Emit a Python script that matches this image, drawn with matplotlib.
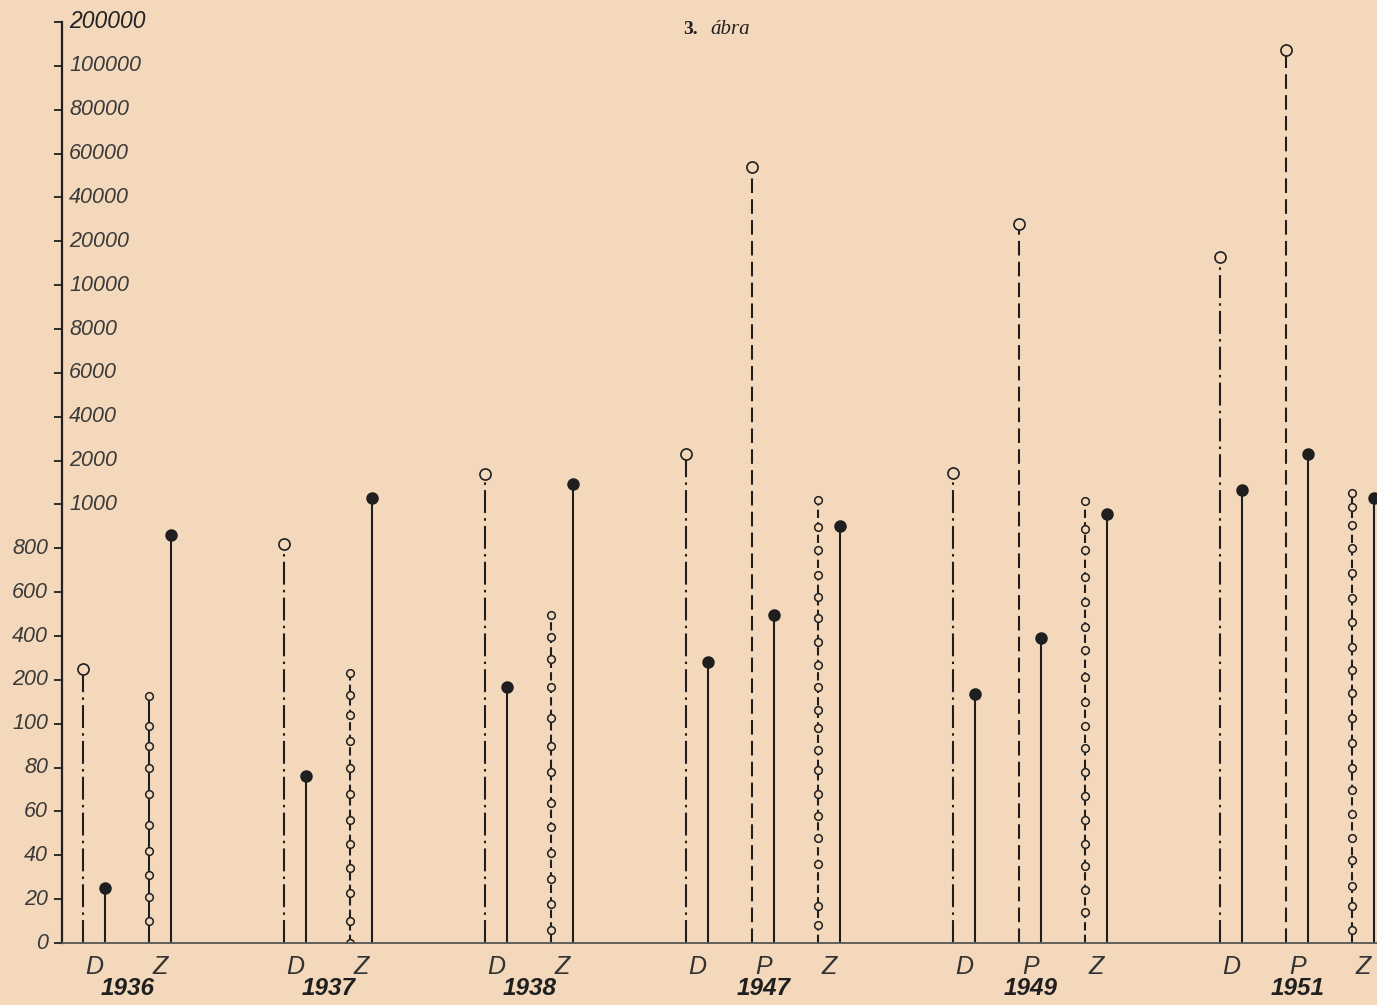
import matplotlib.pyplot as plt
import numpy as np

# Data (piecewise y scale)
tick_values = [0, 20, 40, 60, 80, 100, 200, 400, 600, 800, 1000, 2000, 4000,
               6000, 8000, 10000, 20000, 40000, 60000, 80000, 100000, 200000]

years = ['1936', '1937', '1938', '1947', '1949', '1951']
kinds = [['D', 'Z'], ['D', 'Z'], ['D', 'Z'],
         ['D', 'P', 'Z'], ['D', 'P', 'Z'], ['D', 'P', 'Z']]

d_open = [250, 820, 1690, 2300, 1720, 16400]
d_solid = [25, 76, 184, 282, 168, 1330]
p_open = [None, None, None, 53800, 27800, 136000]
p_solid = [None, None, None, 496, 390, 2300]
z_points = [
    [10, 21, 31, 42, 54, 68, 80, 90, 99, 164],
    [0, 10, 23, 34, 45, 56, 68, 80, 92, 120, 165, 230],
    [6, 18, 29, 41, 53, 64, 78, 90, 113, 184, 296, 396, 496],
    [8, 17, 36, 48, 58, 68, 79, 88, 98, 131, 183, 268, 372, 480, 580, 678,
     792, 898, 1100],
    [14, 24, 35, 45, 56, 67, 78, 89, 99, 150, 214, 336, 442, 556, 668, 792,
     886, 1080],
    [6, 17, 26, 38, 48, 59, 70, 80, 91, 112, 169, 244, 352, 466, 572, 686,
     800, 906, 990, 1250],
]
z_solid = [860, 1150, 1460, 902, 956, 1150]

bg = '#f4d8bc'
ink = '#1f1f1f'

idx = np.arange(len(tick_values))


def fwd(v):
    return np.interp(v, tick_values, idx)


def inv(i):
    return np.interp(i, idx, tick_values)


fig = plt.figure(figsize=(13.77, 10.05), dpi=100)
fig.patch.set_facecolor(bg)
ax = fig.add_axes([62 / 1377, (1005 - 943) / 1005, (1377 - 62) / 1377, (943 - 22) / 1005])
ax.set_facecolor(bg)
ax.set_yscale('function', functions=(fwd, inv))
ax.set_ylim(0, 200000)
ax.set_xlim(62, 1377)

# layout of the stems
start = 83
pair_step = 66
group_gap = 135
offset = 22.5

dash_dot = (0, (11, 2.5, 1.2, 2.5))
dashed = (0, (7, 3))
z_dash = (0, (4, 2))
lw = 1.5
font = ['Liberation Sans', 'DejaVu Sans']

x = start
for g, year in enumerate(years):
    centers = []
    for k in kinds[g]:
        xs = x + offset
        if k == 'D':
            ax.plot([x, x], [0, d_open[g]], color=ink, lw=lw, linestyle=dash_dot)
            ax.plot(x, d_open[g], 'o', mfc=bg, mec=ink, ms=8, mew=1.2)
            ax.plot([xs, xs], [0, d_solid[g]], color=ink, lw=lw)
            ax.plot(xs, d_solid[g], 'o', color=ink, ms=8)
        elif k == 'P':
            ax.plot([x, x], [0, p_open[g]], color=ink, lw=lw, linestyle=dashed)
            ax.plot(x, p_open[g], 'o', mfc=bg, mec=ink, ms=8, mew=1.2)
            ax.plot([xs, xs], [0, p_solid[g]], color=ink, lw=lw)
            ax.plot(xs, p_solid[g], 'o', color=ink, ms=8)
        else:
            pts = z_points[g]
            ls = '-' if g == 0 else z_dash
            ax.plot([x, x], [0, max(pts)], color=ink, lw=lw, linestyle=ls)
            ax.plot([x] * len(pts), pts, 'o', mfc=bg, mec=ink, ms=5.5, mew=1.1,
                    linestyle='none')
            ax.plot([xs, xs], [0, z_solid[g]], color=ink, lw=lw)
            ax.plot(xs, z_solid[g], 'o', color=ink, ms=8)
        center = x + offset / 2
        centers.append(center)
        ax.annotate(k, xy=(center, 0), xycoords=('data', 'axes fraction'),
                    xytext=(0, -24), textcoords='offset pixels', ha='center',
                    va='center', fontsize=18, style='italic', color='#333333',
                    family=font)
        x += pair_step
    ax.annotate(year, xy=(np.median(centers), 0), xycoords=('data', 'axes fraction'),
                xytext=(0, -45), textcoords='offset pixels', ha='center',
                va='center', fontsize=17.5, style='italic', weight='bold', color=ink,
                family=font)
    x += group_gap - pair_step

# axes styling
for s in ['top', 'right']:
    ax.spines[s].set_visible(False)
ax.spines['left'].set_linewidth(1.6)
ax.spines['bottom'].set_linewidth(1.3)
ax.spines['left'].set_color(ink)
ax.spines['bottom'].set_color('#555555')
ax.set_xticks([])
ax.set_yticks(tick_values)
ax.yaxis.set_minor_locator(plt.NullLocator())
ax.tick_params(axis='y', direction='out', length=6, width=1.3, color=ink,
               labelleft=False)

for v in tick_values:
    lbl = str(v)
    size = 16.5 if v == 200000 else 15.5
    col = '#222222' if v == 200000 else '#3a3a3a'
    if v <= 800:
        ax.annotate(lbl, xy=(0, v), xycoords=('axes fraction', 'data'),
                    xytext=(-14, 0), textcoords='offset pixels', ha='right',
                    va='center', fontsize=size, style='italic', color=col,
                    family=font)
    else:
        ax.annotate(lbl, xy=(0, v), xycoords=('axes fraction', 'data'),
                    xytext=(7, 0), textcoords='offset pixels', ha='left',
                    va='center', fontsize=size, style='italic', color=col,
                    family=font)

fig.text(698 / 1377, 1 - 30 / 1005, '3.', ha='right', va='center', fontsize=14,
         weight='bold', family=['Liberation Serif', 'DejaVu Serif'], color=ink)
fig.text(710 / 1377, 1 - 30 / 1005, 'ábra', ha='left', va='center', fontsize=15,
         style='italic', family=['Liberation Serif', 'DejaVu Serif'], color=ink)

fig.savefig('out.png', dpi=100, facecolor=bg)
